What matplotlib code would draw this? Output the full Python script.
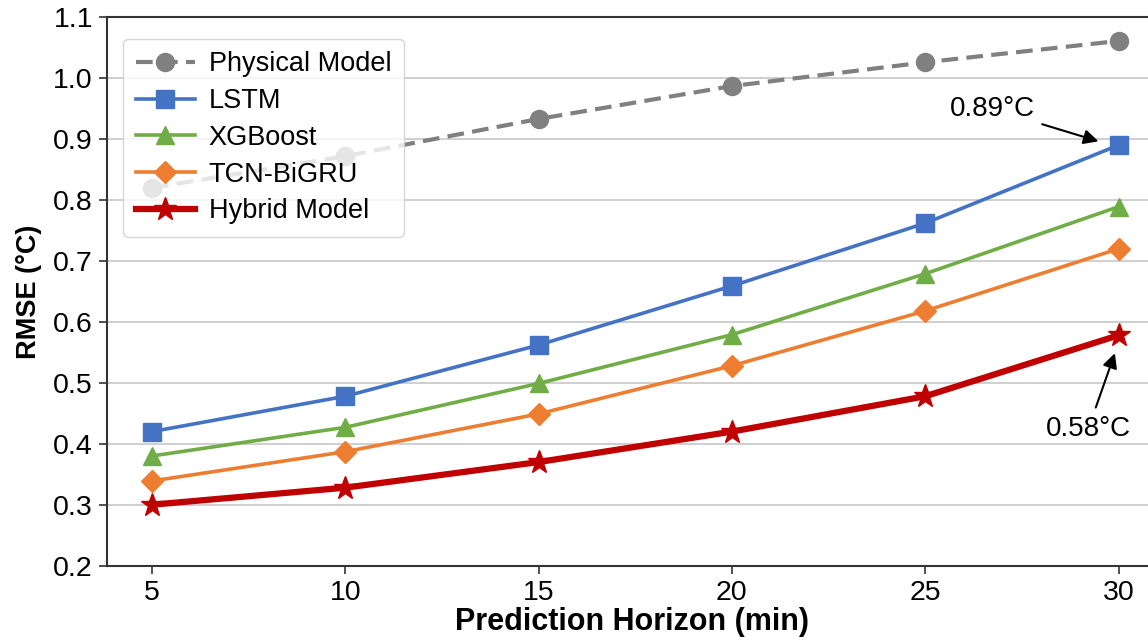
import matplotlib
matplotlib.use('Agg')
import matplotlib.pyplot as plt

plt.rcParams['font.family'] = ['Liberation Sans', 'DejaVu Sans']

horizon = [5, 10, 15, 20, 25, 30]
physical = [0.82, 0.872, 0.933, 0.987, 1.026, 1.061]
lstm = [0.42, 0.478, 0.562, 0.659, 0.762, 0.89]
xgboost = [0.38, 0.427, 0.499, 0.579, 0.679, 0.789]
tcn_bigru = [0.339, 0.387, 0.449, 0.528, 0.618, 0.72]
hybrid = [0.30, 0.328, 0.37, 0.42, 0.478, 0.578]

fig = plt.figure(figsize=(11.48, 6.37), dpi=100)
ax = fig.add_axes([0.093, 0.112, 0.915, 0.861])

ax.plot(horizon, physical, color='#808080', ls='--', lw=3, marker='o', ms=13, label='Physical Model', dashes=(4, 2))
ax.plot(horizon, lstm, color='#4472C4', lw=2.6, marker='s', ms=13, label='LSTM')
ax.plot(horizon, xgboost, color='#70AD47', lw=2.6, marker='^', ms=13, label='XGBoost')
ax.plot(horizon, tcn_bigru, color='#ED7D31', lw=2.6, marker='D', ms=11, label='TCN-BiGRU')
ax.plot(horizon, hybrid, color='#C00000', lw=4.5, marker='*', ms=17, label='Hybrid Model')

# 标注两个关键点
ax.annotate('0.89°C', xy=(29.55, 0.895), xytext=(26.75, 0.949),
            fontsize=20, ha='center', va='center',
            arrowprops=dict(arrowstyle='-|>', color='black', lw=1.5, mutation_scale=22, shrinkA=3))
ax.annotate('0.58°C', xy=(29.93, 0.553), xytext=(29.22, 0.425),
            fontsize=20, ha='center', va='center',
            arrowprops=dict(arrowstyle='-|>', color='black', lw=1.5, mutation_scale=22, shrinkA=4))

ax.set_xlim(3.83, 31.0)
ax.set_ylim(0.2, 1.1)
ax.set_xticks(horizon)
ax.set_yticks([0.2, 0.3, 0.4, 0.5, 0.6, 0.7, 0.8, 0.9, 1.0, 1.1])
ax.set_yticklabels(['0.2', '0.3', '0.4', '0.5', '0.6', '0.7', '0.8', '0.9', '1.0', '1.1'])
ax.tick_params(labelsize=20.5, length=6, width=1.2, color='#333333', pad=4)
ax.grid(axis='y', color='#cccccc', lw=1.3)
ax.set_axisbelow(True)
for s in ['left', 'bottom', 'top']:
    ax.spines[s].set_color('#333333')
    ax.spines[s].set_linewidth(1.5)
ax.spines['right'].set_visible(False)

ax.set_xlabel('Prediction Horizon (min)', fontsize=22, fontweight='bold', labelpad=1)
ax.set_ylabel('RMSE (°C)', fontsize=19.5, fontweight='bold', labelpad=8)

ax.legend(loc='upper left', fontsize=19.5, handlelength=2.2, handletextpad=0.5,
          borderpad=0.45, labelspacing=0.4, bbox_to_anchor=(0.003, 0.985), framealpha=0.8)

fig.savefig('out.png', dpi=100)
